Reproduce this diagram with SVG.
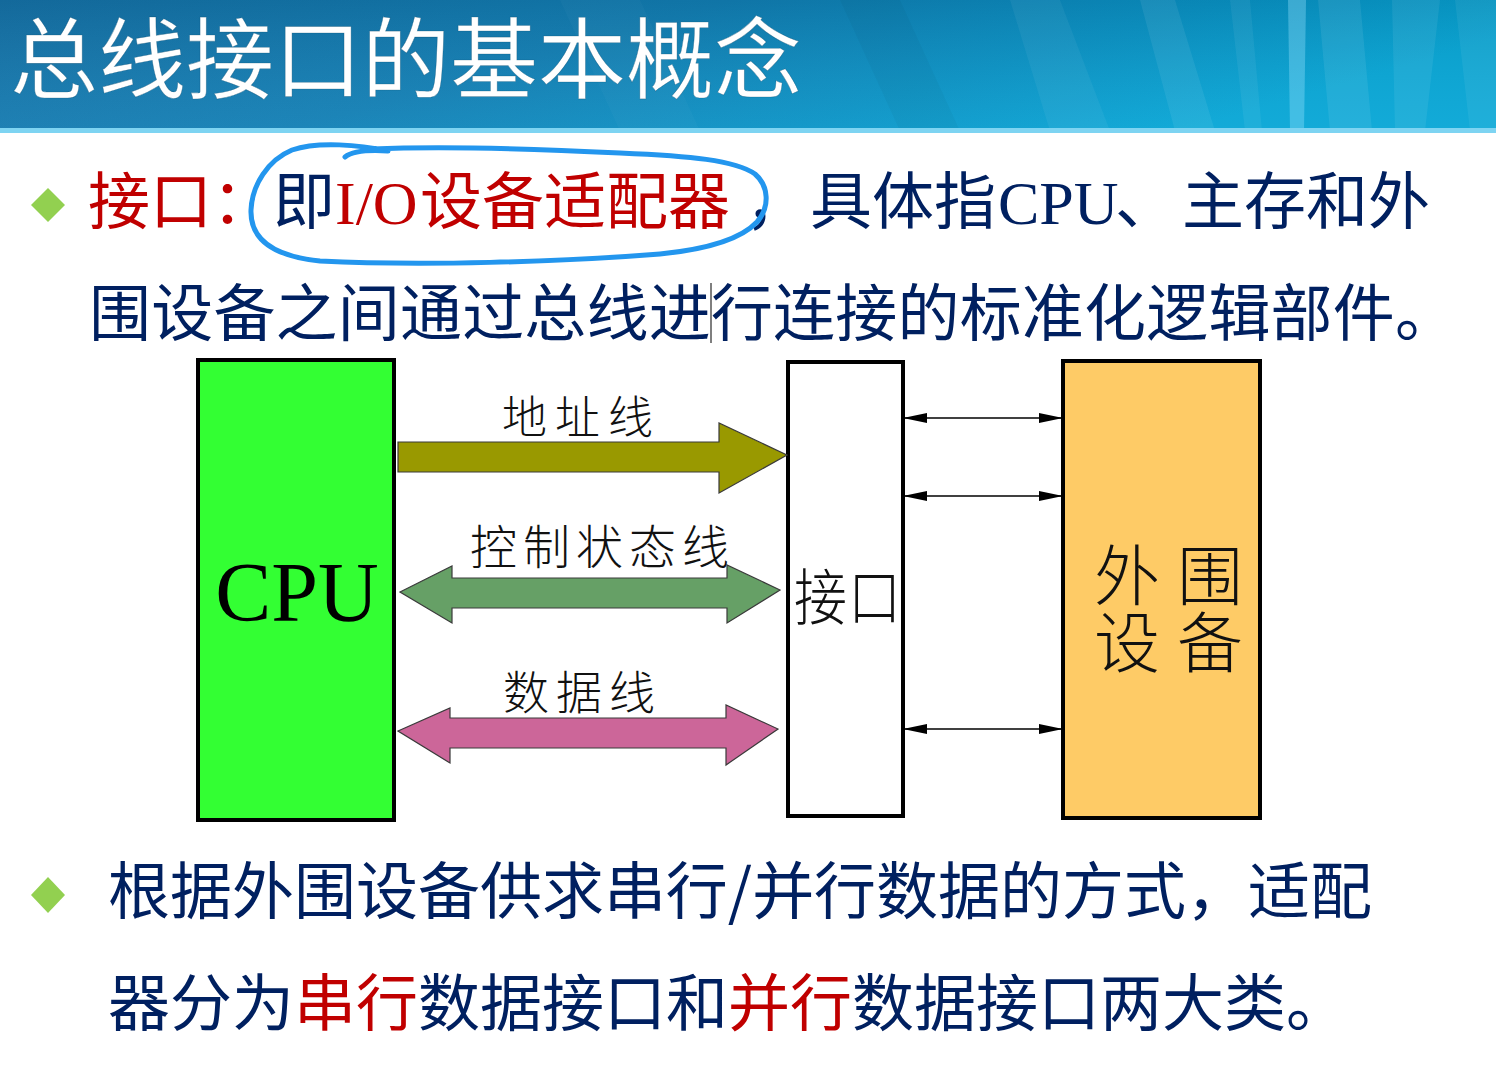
<svg xmlns="http://www.w3.org/2000/svg" width="1496" height="1068" viewBox="0 0 1496 1068">
  <style>
    .cjk { font-family: "Noto Sans CJK SC", "Noto Sans", sans-serif; }
    .lat { font-family: "Liberation Serif", "Noto Sans CJK SC", serif; }
    .body { font-size: 62px; }
    .navy { fill: #002060; }
    .red { fill: #C00000; }
    .lbl { font-family: "Noto Sans CJK SC", sans-serif; font-weight: 300; fill: #111; }
    .box { stroke: #000; stroke-width: 4; }
    .bus { stroke: #3a3a3a; stroke-width: 1.2; stroke-linejoin: miter; }
    .wire { stroke: #000; stroke-width: 1.6; fill: none; }
    .bullet { fill: #92D050; }
  </style>
  <defs>
    <linearGradient id="bandGrad" x1="0" y1="0" x2="1" y2="0.3">
      <stop offset="0" stop-color="#1572A8"/>
      <stop offset="0.45" stop-color="#117FB5"/>
      <stop offset="0.75" stop-color="#0993C6"/>
      <stop offset="1" stop-color="#06A6D6"/>
    </linearGradient>
    <linearGradient id="bandShade" x1="0" y1="0" x2="0" y2="1">
      <stop offset="0" stop-color="#000" stop-opacity="0.08"/>
      <stop offset="1" stop-color="#fff" stop-opacity="0.05"/>
    </linearGradient>
    <marker id="tri" viewBox="0 0 24 10" refX="24" refY="5" markerWidth="24" markerHeight="10" markerUnits="userSpaceOnUse" orient="auto-start-reverse">
      <path d="M0 0 L24 5 L0 10 Z" fill="#000"/>
    </marker>
  </defs>

  <!-- page background -->
  <rect x="0" y="0" width="1496" height="1068" fill="#fff"/>

  <!-- title band -->
  <g id="header">
    <rect x="0" y="0" width="1496" height="131" fill="url(#bandGrad)"/>
    <rect x="0" y="0" width="1496" height="131" fill="url(#bandShade)"/>
    <!-- light streaks -->
    <polygon points="1010,0 1060,0 1110,131 1050,131" fill="#fff" opacity="0.05"/>
    <polygon points="1140,0 1175,0 1215,131 1175,131" fill="#fff" opacity="0.07"/>
    <polygon points="1230,0 1250,0 1262,131 1245,131" fill="#fff" opacity="0.06"/>
    <polygon points="1288,0 1306,0 1304,131 1290,131" fill="#9fe6ff" opacity="0.35"/>
    <polygon points="1318,0 1360,0 1372,131 1330,131" fill="#fff" opacity="0.08"/>
    <polygon points="1392,0 1440,0 1425,131 1395,131" fill="#fff" opacity="0.07"/>
    <polygon points="1455,0 1496,0 1496,131 1470,131" fill="#fff" opacity="0.06"/>
    <polygon points="560,0 640,0 700,131 620,131" fill="#fff" opacity="0.025"/>
    <polygon points="840,0 900,0 960,131 900,131" fill="#000" opacity="0.03"/>
    <rect x="0" y="128" width="1496" height="5" fill="#7ED4F2"/>
    <text class="cjk" x="10" y="91" font-size="88" fill="#fff" stroke="#0b4d72" stroke-width="0.6" stroke-opacity="0.5">总线接口的基本概念</text>
  </g>

  <!-- first bullet -->
  <g id="bullet-1">
    <polygon class="bullet" points="48,188 65,205 48,222 31,205"/>
    <text class="cjk body red" x="88" y="224">接口：</text>
    <text class="cjk body navy" x="273" y="224">即</text>
    <text class="lat body red" x="335" y="224">I/O</text>
    <text class="cjk body red" x="420" y="224">设备适配器</text>
    <text class="cjk body navy" x="745" y="224">，</text>
    <text class="cjk body navy" x="810" y="224">具体指</text>
    <text class="lat body navy" x="998" y="224">CPU</text>
    <text class="cjk body navy" x="1115" y="224">、</text>
    <text class="cjk body navy" x="1182" y="224">主存和外</text>
    <text class="cjk body navy" x="89" y="336" textLength="1368" lengthAdjust="spacing">围设备之间通过总线进行连接的标准化逻辑部件。</text>
    <!-- text cursor -->
    <line x1="711" y1="283" x2="711" y2="343" stroke="#555" stroke-width="1.5"/>
  </g>

  <!-- hand-drawn highlight loop -->
  <path id="highlight" d="M 345 157 Q 355 149 388 151 C 360 145 318 141 292 150 C 268 160 252 185 251 210 C 250 238 272 256 320 261 C 420 266 560 262 660 254 C 710 249 742 238 757 222 C 770 207 769 186 755 174 C 735 160 690 156 620 153 C 520 148 440 146 372 149" fill="none" stroke="#2396EE" stroke-width="5" stroke-linecap="round" stroke-linejoin="round"/>

  <!-- diagram nodes -->
  <g id="node-cpu">
    <rect class="box" x="198" y="360" width="196" height="460" fill="#33FF33"/>
    <text class="lat" x="297" y="621" font-size="84" text-anchor="middle" fill="#000">CPU</text>
  </g>
  <g id="node-interface">
    <rect class="box" x="788" y="362" width="115" height="454" fill="#fff"/>
    <text class="lbl" transform="translate(794,620) scale(1,1.15)" font-size="53" letter-spacing="1">接口</text>
  </g>
  <g id="node-device">
    <rect class="box" x="1063" y="361" width="197" height="457" fill="#FECB66"/>
    <text class="lbl" font-size="66" letter-spacing="17"><tspan x="1094" y="600">外围</tspan><tspan x="1094" y="667">设备</tspan></text>
  </g>

  <!-- connectors -->
  <g id="connectors">
    <!-- address bus -->
    <polygon class="bus" points="398,442 719,442 719,423 787,455 719,493 719,472 398,472" fill="#999900"/>
    <text class="lbl" x="502" y="434" font-size="45" letter-spacing="8">地址线</text>
    <!-- control/status bus -->
    <polygon class="bus" points="400,592 452,566 452,578 727,578 727,565 780,590 727,623 727,608 452,608 452,623" fill="#66A066"/>
    <text class="lbl" x="470" y="564" font-size="47" letter-spacing="6">控制状态线</text>
    <!-- data bus -->
    <polygon class="bus" points="398,731 450,708 450,718 726,718 726,705 778,729 726,765 726,748 450,748 450,763" fill="#CC6699"/>
    <text class="lbl" x="503" y="709" font-size="46" letter-spacing="7">数据线</text>
    <!-- interface to device lines -->
    <line class="wire" x1="903" y1="418" x2="1063" y2="418" marker-start="url(#tri)" marker-end="url(#tri)"/>
    <line class="wire" x1="903" y1="496" x2="1063" y2="496" marker-start="url(#tri)" marker-end="url(#tri)"/>
    <line class="wire" x1="903" y1="729" x2="1063" y2="729" marker-start="url(#tri)" marker-end="url(#tri)"/>
  </g>

  <!-- second bullet -->
  <g id="bullet-2">
    <polygon class="bullet" points="48,877 65,895 48,913 31,895"/>
    <text class="cjk body navy" x="108" y="914" textLength="1264" lengthAdjust="spacing">根据外围设备供求串行/并行数据的方式，适配</text>
    <text class="cjk body navy" x="108" y="1026">器分为<tspan class="red">串行</tspan>数据接口和<tspan class="red">并行</tspan>数据接口两大类。</text>
  </g>
</svg>
